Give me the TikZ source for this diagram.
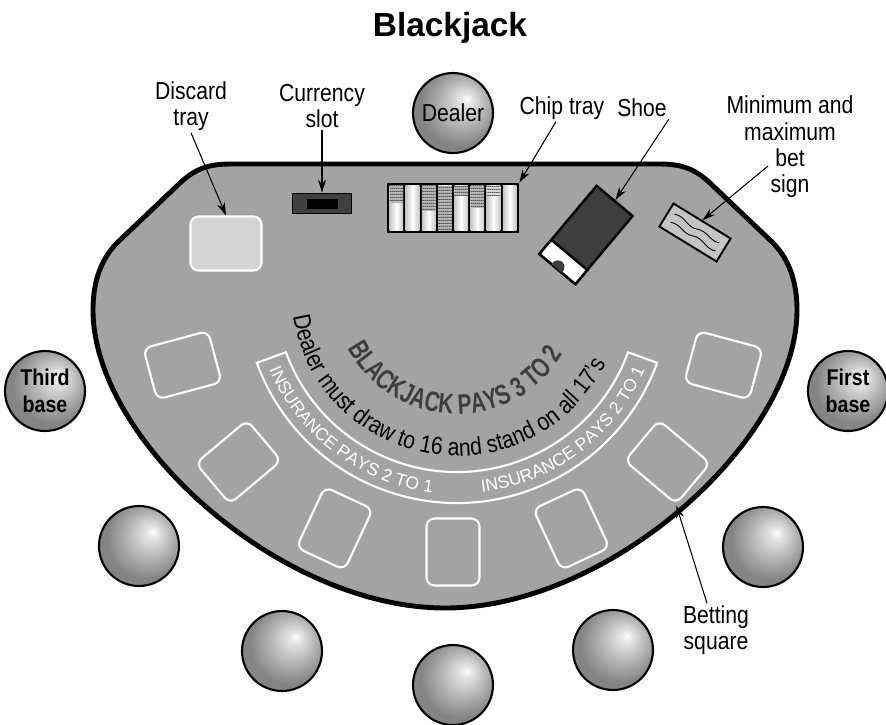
\documentclass[tikz,border=0pt]{standalone}
\usepackage{fontspec}
\setmainfont{Liberation Sans}[FakeStretch=0.86]
\newfontfamily\titlefont{Liberation Sans}
\newfontfamily\narrowfont{Liberation Sans}[FakeStretch=0.74]
\usetikzlibrary{arrows.meta, positioning, calc, patterns, decorations.text}

\definecolor{felt}{RGB}{163,163,163}
\definecolor{traygray}{RGB}{212,212,212}
\definecolor{slotgray}{RGB}{64,64,64}
\definecolor{shoegray}{RGB}{62,62,62}
\definecolor{signgray}{RGB}{196,196,196}
\definecolor{printgray}{RGB}{62,62,62}
\definecolor{seatlight}{RGB}{232,232,232}
\definecolor{seatmid}{RGB}{180,180,180}
\definecolor{seatdark}{RGB}{132,132,132}

\pgfdeclareradialshading{seatball}{\pgfqpoint{9bp}{9bp}}{%
  color(0bp)=(white); color(3bp)=(seatlight); color(14bp)=(seatmid);
  color(25bp)=(seatdark); color(50bp)=(seatdark)}
\pgfdeclarepatternformonly{chiplines}{\pgfqpoint{0pt}{0pt}}{\pgfqpoint{1pt}{1.6pt}}%
  {\pgfqpoint{1pt}{1.6pt}}{\pgfpathrectangle{\pgfpointorigin}{\pgfqpoint{1pt}{0.7pt}}\pgfusepath{fill}}

\newcommand\insfont{\titlefont\fontsize{10}{12}\selectfont}
\newcommand\dealfont{\fontsize{14}{16}\selectfont}
\newcommand\bjfont{\narrowfont\fontsize{16}{18}\selectfont\bfseries}

\begin{document}
\begin{tikzpicture}[
  x=0.02cm, y=-0.02cm,
  every node/.style={font=\fontsize{14}{15}\selectfont, align=center},
  tag/.style={inner sep=1pt},
  seat/.style={circle, draw, line width=1.2pt, minimum size=1.6cm, inner sep=0pt, shading=seatball},
  basecirc/.style={seat, font=\fontsize{13}{15}\selectfont\bfseries},
  betbox/.style={draw=white, line width=1.2pt, rounded corners=4.5pt,
                 minimum width=1.06cm, minimum height=1.34cm, inner sep=0pt},
  arr/.style={-{Stealth[length=2.6mm, width=1.6mm]}, line width=0.6pt},
]
  \useasboundingbox (0,0) rectangle (886,724);

  % table
  \draw[line width=2.8pt, fill=felt]
    (230,164) -- (660,164) .. controls (685,164) and (697,171) .. (710,183)
    -- (770,240) .. controls (785,254) and (797,275) .. (797,310)
    .. controls (797,440) and (610,608) .. (445,608)
    .. controls (280,608) and (93,440) .. (93,310)
    .. controls (93,275) and (105,254) .. (120,240)
    -- (180,183) .. controls (193,171) and (205,164) .. (230,164) -- cycle;

  \node (title) at (450,28) {\titlefont\fontsize{19}{22}\selectfont\bfseries Blackjack};

  % seats
  \node[seat] (dealer) at (453,113) {Dealer};
  \node[basecirc] (third) at (45,391) {Third\\base};
  \node[basecirc] (first) at (848,391) {First\\base};
  \foreach \x/\y [count=\i] in {139/546, 282/651, 453/685, 613/650, 763/547}
    \node[seat] (seat\i) at (\x,\y) {};

  % betting squares
  \foreach \t [count=\i] in {15,40,65,90,115,140,165}
    \node[betbox, rotate=90-\t] (sq\i) at ({453+280*cos(\t)}, {300+252*sin(\t)}) {};

  % insurance band and printing
  \coordinate (pit) at (457,290);
  \draw[white, line width=1.2pt]
    ([shift={(160:213)}]pit) arc[start angle=160, end angle=20, radius=213]
    -- ([shift={(20:182)}]pit) arc[start angle=20, end angle=160, radius=182] -- cycle;
  \path[decorate, decoration={text along path, text align=center, text color=white,
      text={|\insfont|INSURANCE PAYS 2 TO 1}}]
    ([shift={(162:204)}]pit) arc[start angle=162, end angle=92, radius=204];
  \path[decorate, decoration={text along path, text align=center, text color=white,
      text={|\insfont|INSURANCE PAYS 2 TO 1}}]
    ([shift={(88:204)}]pit) arc[start angle=88, end angle=18, radius=204];
  \path[decorate, decoration={text along path, text align=center,
      text={|\dealfont|Dealer must draw to 16 and stand on all 17's}}]
    ([shift={(182:166)}]pit) arc[start angle=182, end angle=15, radius=166];
  \path[decorate, decoration={text along path, text align=center, text color=printgray,
      text={|\bjfont|BLACKJACK PAYS 3 TO 2}}]
    ([shift={(162:124)}]pit) arc[start angle=162, end angle=21, radius=124];

  % discard tray and currency slot
  \node[draw=white, line width=1.2pt, fill=traygray, rounded corners=4.5pt,
        minimum width=1.42cm, minimum height=1.08cm, inner sep=0pt] (discard) at (226,243.5) {};
  \node[draw, line width=1pt, fill=slotgray, minimum width=1.18cm, minimum height=0.4cm,
        inner sep=0pt] (slot) at (322,203.5) {};
  \node[fill=black, minimum width=0.62cm, minimum height=0.2cm, inner sep=0pt] (slotgap) at (slot.center) {};

  % chip tray
  \node[fill=black, minimum width=2.64cm, minimum height=1cm, inner sep=0pt] (chips) at (453,208) {};
  \foreach \d/\tone [count=\i from 0] in {17/55, 0/55, 25/55, 45/55, 10/55, 22/55, 10/25, 0/55} {
    \pgfmathsetmacro\xa{389.5+16.2*\i}
    \pgfmathsetmacro\xb{\xa+13.7}
    \fill[left color=gray!45, right color=gray!45, middle color=white] (\xa,185.5) rectangle (\xb,230.5);
    \ifnum\d>0
      \path[preaction={fill=gray!\tone}, pattern=chiplines, pattern color=black!65]
        (\xa,185.5) rectangle (\xb,185.5+\d);
    \fi
  }

  % shoe
  \node[draw, line width=1.4pt, fill=shoegray, minimum width=0.94cm, minimum height=1.78cm,
        inner sep=0pt, rotate=-40] (shoe) at (586,235) {};
  \begin{scope}[shift={(shoe.center)}, rotate=-40]
    \draw[line width=1.4pt, fill=white] (-23.5,26) rectangle (23.5,44.5);
    \fill[shoegray] (-8,44.5) .. controls (-8,33) and (6,33) .. (6,44.5) -- cycle;
  \end{scope}

  % bet sign
  \node[draw, line width=1.1pt, fill=signgray, minimum width=1.34cm, minimum height=0.54cm,
        inner sep=0pt, rotate=-31.5] (betsign) at (695,232.5) {};
  \begin{scope}[shift={(betsign.center)}, rotate=-31.5, line width=0.5pt]
    \draw (-27,-5) .. controls (-16,-9) and (-10,0) .. (0,-4) .. controls (10,-8) and (18,0) .. (26,-4);
    \draw (-26,4) .. controls (-16,0) and (-10,8) .. (0,4) .. controls (10,0) and (18,9) .. (27,5);
  \end{scope}

  % labels
  \node[tag] (lbldiscard) at (191,106) {Discard\\tray};
  \node[tag] (lblslot) at (322,106) {Currency\\slot};
  \node[tag] (lblchip) at (562,108) {Chip tray};
  \node[tag] (lblshoe) at (642,108) {Shoe};
  \node[tag] (lblbet) at (790,147) {Minimum and\\maximum\\bet\\sign};
  \node[tag] (lblsquare) at (716,630) {Betting\\square};
  \coordinate (betfrom) at (768,166);

  \draw[arr] (lbldiscard.south) -- (discard.north);
  \draw[arr] (lblslot.south) -- (slot.north);
  \draw[arr] ($(lblchip.south)+(-6,0)$) -- (chips.north east);
  \draw[arr] (lblshoe.south east) -- (shoe.north);
  \draw[arr] (betfrom) -- (betsign.north);
  \draw[arr] ($(lblsquare.north)+(-9,0)$) -- (sq2.south west);
\end{tikzpicture}
\end{document}
